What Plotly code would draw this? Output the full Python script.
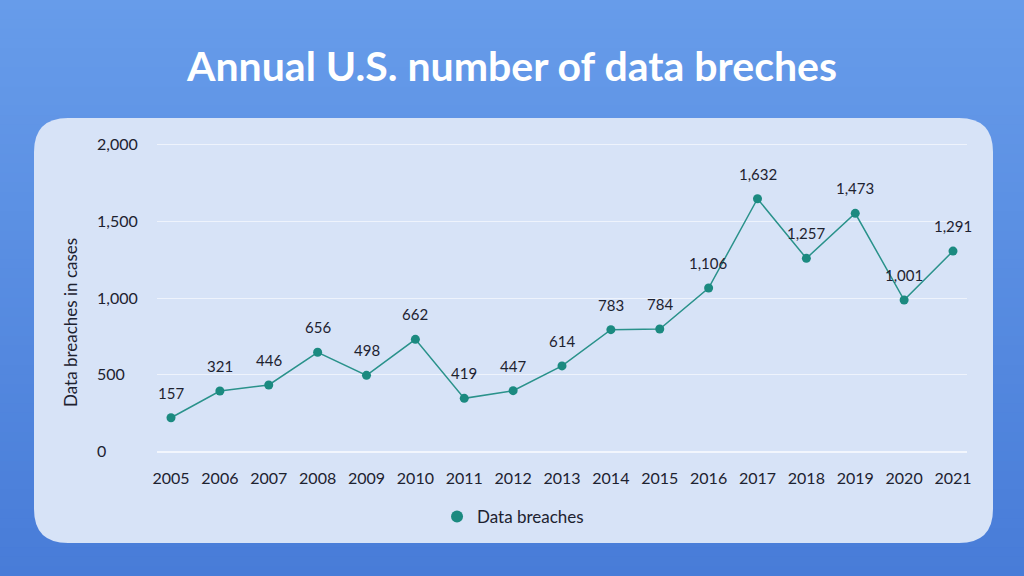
import plotly.graph_objects as go

years = list(range(2005, 2022))
# plotted positions of the points
plot_values = [221, 395, 434, 647, 497, 731, 347, 397, 558, 794, 798,
               1065, 1646, 1258, 1551, 987, 1305]
# numbers printed on the data labels
label_values = [157, 321, 446, 656, 498, 662, 419, 447, 614, 783, 784,
                1106, 1632, 1257, 1473, 1001, 1291]
y_ticks = [0, 500, 1000, 1500, 2000]
y_tick_text = ["0", "500", "1,000", "1,500", "2,000"]

title_text = "Annual U.S. number of data breches"
series_name = "Data breaches"
y_title = "Data breaches in cases"

W, H = 1024, 576
FONT = "Lato"
DARK = "#1d2230"
TEAL = "#1b8a80"

def px_x(p):
    return p / W

def px_y(p):
    return 1 - p / H

fig = go.Figure()

fig.add_trace(go.Scatter(
    x=years, y=plot_values, mode="lines+markers", name=series_name,
    line=dict(color="#2a928b", width=1.5),
    marker=dict(color=TEAL, size=9),
    hoverinfo="skip", showlegend=False,
))
# legend entry (marker only)
fig.add_trace(go.Scatter(
    x=[None], y=[None], mode="markers", name=series_name,
    marker=dict(color=TEAL, size=10), hoverinfo="skip",
))
# invisible helper trace for the left-aligned tick label axis
fig.add_trace(go.Scatter(
    x=years, y=plot_values, yaxis="y2", mode="markers", showlegend=False,
    marker=dict(opacity=0), hoverinfo="skip",
))

shapes = []
# background gradient
n = 60
top = (0x67, 0x9c, 0xea)
bot = (0x48, 0x7c, 0xd8)
for i in range(n):
    t = i / (n - 1)
    c = tuple(round(top[k] + (bot[k] - top[k]) * t) for k in range(3))
    shapes.append(dict(type="rect", xref="paper", yref="paper",
                       x0=0, x1=1, y0=1 - (i + 1) / n - 0.002, y1=1 - i / n,
                       fillcolor="rgb(%d,%d,%d)" % c, line=dict(width=0),
                       layer="below"))
# rounded panel
x0, x1 = px_x(34), px_x(993)
y0, y1 = px_y(543), px_y(118)
rx, ry = 34 / W, 34 / H
path = (f"M {x0+rx},{y1} L {x1-rx},{y1} Q {x1},{y1} {x1},{y1-ry} "
        f"L {x1},{y0+ry} Q {x1},{y0} {x1-rx},{y0} L {x0+rx},{y0} "
        f"Q {x0},{y0} {x0},{y0+ry} L {x0},{y1-ry} Q {x0},{y1} {x0+rx},{y1} Z")
shapes.append(dict(type="path", xref="paper", yref="paper", path=path,
                   fillcolor="#d7e3f7", line=dict(width=0), layer="below"))

annotations = []
for yr, v, lab in zip(years, plot_values, label_values):
    annotations.append(dict(x=yr, y=v, xref="x", yref="y", text=f"{lab:,}",
                            showarrow=False, yshift=25,
                            font=dict(family=FONT, size=15, color=DARK)))
annotations.append(dict(x=px_x(70), y=px_y(323), xref="paper", yref="paper",
                        xanchor="center", yanchor="middle",
                        text=y_title, textangle=-90, showarrow=False,
                        font=dict(family=FONT, size=17, color=DARK)))

# y axis: pixel scale, extended a little so edge tick labels are not hidden
y_bot_px, y_top_px = 451.7, 144.3
ppu = (y_bot_px - y_top_px) / 2000.0
ext = 110
y_range = [-ext, 2000 + ext]
y_domain = [px_y(y_bot_px + ext * ppu), px_y(y_top_px - ext * ppu)]

a = 0.2865
fig.update_layout(
    width=W, height=H,
    margin=dict(l=0, r=0, t=0, b=0, autoexpand=False),
    paper_bgcolor="#5a8ee2",
    plot_bgcolor="rgba(0,0,0,0)",
    title=dict(text=f"<b>{title_text}</b>", x=0.5, xanchor="center",
               y=px_y(67), yanchor="middle",
               font=dict(family=FONT, size=41, color="white")),
    xaxis=dict(domain=[px_x(157), px_x(967)], range=[2005 - a, 2021 + a],
               anchor="free", position=px_y(y_bot_px),
               tickmode="array", tickvals=years, ticktext=[str(y) for y in years],
               showgrid=False, zeroline=False, showline=False,
               ticks="outside", ticklen=12, tickcolor="rgba(0,0,0,0)",
               tickfont=dict(family=FONT, size=16, color=DARK)),
    yaxis=dict(domain=y_domain, range=y_range,
               tickmode="array", tickvals=y_ticks, showticklabels=False,
               showgrid=True, gridcolor="#eef3fc", gridwidth=1,
               zeroline=True, zerolinecolor="#f2f6fd", zerolinewidth=2,
               showline=False),
    yaxis2=dict(overlaying="y", anchor="free", position=px_x(93),
                range=y_range, tickmode="array", tickvals=y_ticks,
                ticktext=y_tick_text, ticklabelposition="inside",
                showgrid=False, zeroline=False, showline=False, ticks="",
                tickfont=dict(family=FONT, size=16, color=DARK)),
    showlegend=True,
    legend=dict(orientation="h", x=0.501, xanchor="center", y=px_y(517),
                yanchor="middle", bgcolor="rgba(0,0,0,0)",
                font=dict(family=FONT, size=17, color=DARK),
                itemsizing="constant", itemwidth=30),
    shapes=shapes,
    annotations=annotations,
)

fig.write_html("out.html",
               config={"displayModeBar": False},
               post_script="document.body.style.margin='0';"
                           "document.body.style.overflow='hidden';")
